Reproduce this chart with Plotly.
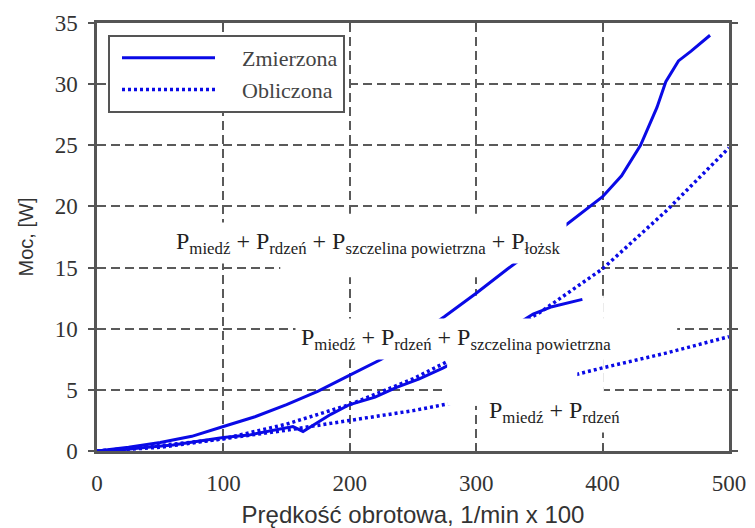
import plotly.graph_objects as go

# Measured total loss (upper solid curve)
speed_total = [0, 25, 50, 75, 100, 125, 150, 175, 200, 225, 250, 275, 300, 325,
               350, 375, 400, 415, 430, 443, 450, 460, 470, 485]
power_total = [0, 0.3, 0.7, 1.2, 2.0, 2.8, 3.8, 4.9, 6.2, 7.5, 9.2, 11.0, 12.9, 14.9,
               16.8, 18.8, 20.8, 22.5, 25.0, 28.1, 30.2, 31.9, 32.7, 34.0]

# Measured loss without bearings (middle solid curve)
speed_meas2 = [0, 20, 40, 60, 80, 100, 120, 140, 155, 163, 172, 185, 200, 220,
               237, 255, 274, 300, 325, 345, 360, 372, 384]
power_meas2 = [0, 0.1, 0.3, 0.5, 0.8, 1.1, 1.3, 1.7, 2.0, 1.6, 2.2, 3.0, 3.8, 4.4,
               5.2, 5.9, 6.8, 8.2, 9.9, 11.2, 11.8, 12.1, 12.4]

# Calculated: copper + core + air gap (upper dotted curve)
speed_calc1 = [0, 50, 100, 150, 200, 250, 300, 350, 400, 450, 500]
power_calc1 = [0, 0.3, 1.0, 2.2, 3.8, 5.9, 8.5, 11.3, 14.9, 19.6, 24.8]

# Calculated: copper + core (lower dotted curve)
speed_calc2 = [0, 50, 100, 150, 200, 250, 300, 350, 400, 450, 500]
power_calc2 = [0, 0.45, 1.0, 1.7, 2.5, 3.3, 4.3, 5.5, 6.8, 8.0, 9.35]

x_ticks = [0, 100, 200, 300, 400, 500]
y_ticks = [0, 5, 10, 15, 20, 25, 30, 35]

BLUE = "#0a0ae6"
GRID = "#5a5a5a"
SERIF = "Liberation Serif, Times New Roman, serif"
SANS = "Liberation Sans, Arial, sans-serif"
NB = "\u00a0"

fig = go.Figure()

solid = dict(color=BLUE, width=3)
dotted = dict(color=BLUE, width=3.5, dash="3px,3px")

fig.add_trace(go.Scatter(x=speed_total, y=power_total, mode="lines", line=solid,
                         name=NB * 4 + "Zmierzona", legendgroup="m", showlegend=True))
fig.add_trace(go.Scatter(x=speed_meas2, y=power_meas2, mode="lines", line=solid,
                         name="Zmierzona", legendgroup="m", showlegend=False))
fig.add_trace(go.Scatter(x=speed_calc1, y=power_calc1, mode="lines", line=dotted,
                         name=NB * 4 + "Obliczona", legendgroup="c", showlegend=True))
fig.add_trace(go.Scatter(x=speed_calc2, y=power_calc2, mode="lines", line=dotted,
                         name="Obliczona", legendgroup="c", showlegend=False))

# White label patches over the grid (and over the curves where the labels sit)
white = dict(type="rect", xref="x", yref="y", fillcolor="white", line=dict(width=0))
shapes = [
    dict(white, x0=145, x1=398, y0=14.2, y1=19.4, layer="between"),
    dict(white, x0=277, x1=401, y0=3.7, y1=12.7, layer="between"),
    dict(white, x0=401, x1=459, y0=7.4, y1=12.3, layer="between"),
    dict(white, x0=277, x1=380, y0=3.7, y1=8.2, layer="above"),
]

term_a = "P<sub>miedź</sub> + P<sub>rdzeń</sub>"
term_b = term_a + " + P<sub>szczelina powietrzna</sub>"
term_c = term_b + " + P<sub>łożsk</sub>"

label_font = dict(family=SERIF, size=24, color="#222")
annotations = [
    dict(x=215, y=17.0, text=term_c),
    dict(x=284, y=9.2, text=term_b),
    dict(x=362, y=3.2, text=term_a),
]
for a in annotations:
    a.update(xref="x", yref="y", showarrow=False, bgcolor="white", borderpad=5,
             font=label_font, xanchor="center", yanchor="middle")

fig.update_layout(
    width=755, height=528,
    margin=dict(l=97, r=26, t=23, b=77),
    paper_bgcolor="white", plot_bgcolor="white",
    shapes=shapes, annotations=annotations,
    legend=dict(x=0.0174, y=0.972, xanchor="left", yanchor="top",
                bgcolor="white", bordercolor="#555", borderwidth=2,
                font=dict(family=SERIF, size=22, color="#444"),
                itemwidth=93, indentation=7, tracegroupgap=0),
)

axis_common = dict(showline=True, linecolor="#555", linewidth=2.5, mirror="ticks",
                   showgrid=True, gridcolor=GRID, gridwidth=2, griddash="9px,5px",
                   zeroline=False, automargin=False, ticklen=6, tickwidth=2,
                   tickcolor="#555", tickfont=dict(family=SERIF, size=23, color="#333"))

fig.update_xaxes(axis_common, range=[0, 500], tickvals=x_ticks, ticks="inside",
                 ticklabelstandoff=10,
                 title=dict(text="Prędkość obrotowa, 1/min x 100",
                            font=dict(family=SANS, size=24, color="#333"), standoff=13))
fig.update_yaxes(axis_common, range=[0, 35], tickvals=y_ticks, ticks="outside",
                 ticklabelstandoff=6,
                 title=dict(text="Moc, [W]",
                            font=dict(family=SANS, size=20, color="#333"), standoff=16))

fig.write_html("out.html")
